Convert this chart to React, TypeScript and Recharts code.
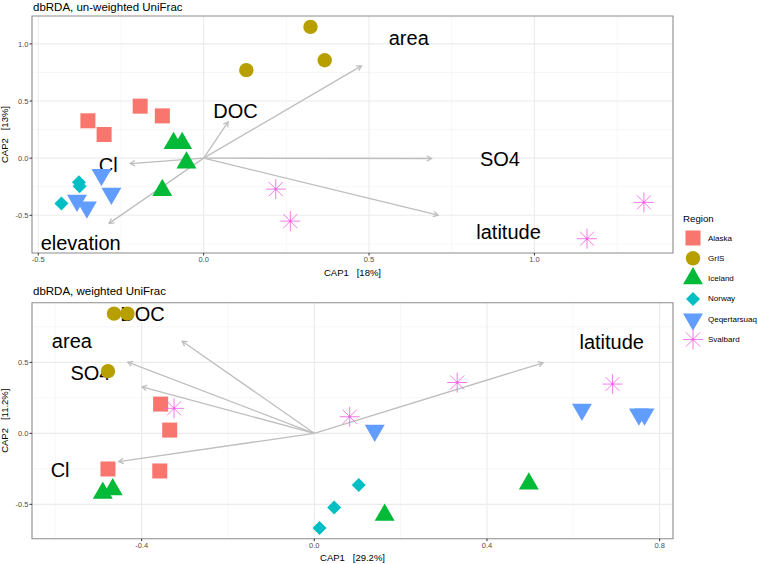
import React from 'react'
import { ScatterChart, Scatter, XAxis, YAxis, CartesianGrid, ReferenceLine, ReferenceArea } from 'recharts'

// region order and ggplot hue colours
const regions = ['Alaska', 'GrIS', 'Iceland', 'Norway', 'Qeqertarsuaq', 'Svalbard']
const regionColors = ['#F8766D', '#B79F00', '#00BA38', '#00BFC4', '#619CFF', '#F564E3']
const regionShapes = ['square', 'circle', 'triangle', 'diamond', 'triangleDown', 'star']

// dbRDA un-weighted UniFrac sample scores
const uwAlaska = [{ x: -0.35, y: 0.327 }, { x: -0.301, y: 0.207 }, { x: -0.192, y: 0.455 }, { x: -0.125, y: 0.37 }]
const uwGrIS = [{ x: 0.323, y: 1.149 }, { x: 0.366, y: 0.857 }, { x: 0.129, y: 0.77 }]
const uwIceland = [{ x: -0.091, y: 0.13 }, { x: -0.065, y: 0.13 }, { x: -0.052, y: -0.04 }, { x: -0.125, y: -0.28 }]
const uwNorway = [{ x: -0.377, y: -0.21 }, { x: -0.375, y: -0.245 }, { x: -0.43, y: -0.397 }]
const uwQeqertarsuaq = [{ x: -0.309, y: -0.145 }, { x: -0.279, y: -0.31 }, { x: -0.383, y: -0.37 }, { x: -0.353, y: -0.43 }]
const uwSvalbard = [{ x: 0.218, y: -0.271 }, { x: 0.262, y: -0.551 }, { x: 1.159, y: -0.705 }, { x: 1.331, y: -0.387 }]

// un-weighted environmental vectors
const uwVectors = [
  { name: 'DOC', x: 0.074, y: 0.318 },
  { name: 'area', x: 0.477, y: 0.808 },
  { name: 'SO4', x: 0.689, y: -0.003 },
  { name: 'latitude', x: 0.709, y: -0.499 },
  { name: 'Cl', x: -0.222, y: -0.047 },
  { name: 'elevation', x: -0.286, y: -0.571 },
]

// dbRDA weighted UniFrac sample scores
const wAlaska = [{ x: -0.356, y: 0.206 }, { x: -0.335, y: 0.023 }, { x: -0.478, y: -0.251 }, { x: -0.358, y: -0.265 }]
const wGrIS = [{ x: -0.464, y: 0.843 }, { x: -0.433, y: 0.843 }, { x: -0.478, y: 0.438 }]
const wIceland = [{ x: -0.49, y: -0.42 }, { x: -0.467, y: -0.395 }, { x: 0.163, y: -0.575 }, { x: 0.497, y: -0.355 }]
const wNorway = [{ x: 0.012, y: -0.667 }, { x: 0.046, y: -0.522 }, { x: 0.103, y: -0.363 }]
const wQeqertarsuaq = [{ x: 0.14, y: 0.02 }, { x: 0.62, y: 0.168 }, { x: 0.752, y: 0.135 }, { x: 0.765, y: 0.135 }]
const wSvalbard = [{ x: -0.325, y: 0.176 }, { x: 0.082, y: 0.117 }, { x: 0.331, y: 0.358 }, { x: 0.691, y: 0.347 }]

const wVectors = [
  { name: 'DOC', x: -0.306, y: 0.649 },
  { name: 'area', x: -0.432, y: 0.501 },
  { name: 'SO4', x: -0.399, y: 0.328 },
  { name: 'Cl', x: -0.453, y: -0.199 },
  { name: 'latitude', x: 0.53, y: 0.497 },
]

// labels sit at 1.3 x the vector tips
const labelMult = 1.3

// axes
const uwXDomain = [-0.519, 1.419]
const uwYDomain = [-0.83, 1.244]
const uwXTicks = [-0.5, 0, 0.5, 1.0]
const uwYTicks = [-0.5, 0, 0.5, 1.0]
const uwXMinor = [-0.25, 0.25, 0.75, 1.25]
const uwYMinor = [-0.75, -0.25, 0.25, 0.75]

const wXDomain = [-0.654, 0.831]
const wYDomain = [-0.742, 0.92]
const wXTicks = [-0.4, 0, 0.4, 0.8]
const wYTicks = [-0.5, 0, 0.5]
const wXMinor = [-0.6, -0.2, 0.2, 0.6]
const wYMinor = [-0.25, 0.25, 0.75]

const FONT = '"Liberation Sans", Arial, Helvetica, sans-serif'

function Marker({ kind, cx, cy, color }: { kind: string; cx: number; cy: number; color: string }) {
  if (kind === 'square') return <rect x={cx - 7.5} y={cy - 7.5} width={15} height={15} fill={color} />
  if (kind === 'circle') return <circle cx={cx} cy={cy} r={7.2} fill={color} />
  if (kind === 'triangle') {
    const r = 11.5
    const pts = [[cx, cy - r], [cx + r * 0.866, cy + r / 2], [cx - r * 0.866, cy + r / 2]]
    return <polygon points={pts.map((p) => p.join(',')).join(' ')} fill={color} />
  }
  if (kind === 'triangleDown') {
    const r = 11.5
    const pts = [[cx, cy + r], [cx + r * 0.866, cy - r / 2], [cx - r * 0.866, cy - r / 2]]
    return <polygon points={pts.map((p) => p.join(',')).join(' ')} fill={color} />
  }
  if (kind === 'diamond') {
    const r = 7
    return <polygon points={`${cx},${cy - r} ${cx + r},${cy} ${cx},${cy + r} ${cx - r},${cy}`} fill={color} />
  }
  // asterisk (+ and x)
  const r = 10
  const d = r * 0.707
  return (
    <g stroke={color} strokeWidth={1} strokeOpacity={0.85}>
      <line x1={cx - r} y1={cy} x2={cx + r} y2={cy} />
      <line x1={cx} y1={cy - r} x2={cx} y2={cy + r} />
      <line x1={cx - d} y1={cy - d} x2={cx + d} y2={cy + d} />
      <line x1={cx - d} y1={cy + d} x2={cx + d} y2={cy - d} />
      <circle cx={cx} cy={cy} r={1.3} fill={color} stroke="none" />
    </g>
  )
}

function arrowShape(props: any) {
  const { x1, y1, x2, y2 } = props
  if ([x1, y1, x2, y2].some((v) => typeof v !== 'number' || isNaN(v))) return <g />
  const ang = Math.atan2(y2 - y1, x2 - x1)
  const len = 5.5
  const a1 = ang + Math.PI - Math.PI / 6
  const a2 = ang + Math.PI + Math.PI / 6
  return (
    <g stroke="#BEBEBE" strokeWidth={1.3} fill="none">
      <line x1={x1} y1={y1} x2={x2} y2={y2} />
      <polyline
        points={`${x2 + len * Math.cos(a1)},${y2 + len * Math.sin(a1)} ${x2},${y2} ${x2 + len * Math.cos(a2)},${y2 + len * Math.sin(a2)}`}
      />
    </g>
  )
}

function labelShape(props: any) {
  const { cx, cy, payload } = props
  return (
    <text x={cx} y={cy} textAnchor="middle" dominantBaseline="central" fontSize={20} fontFamily={FONT} fill="#000">
      {payload.name}
    </text>
  )
}

const fmt = (v: number) => v.toFixed(1)

interface PanelProps {
  series: { x: number; y: number }[][]
  vectors: { name: string; x: number; y: number }[]
  xDomain: number[]
  yDomain: number[]
  xTicks: number[]
  yTicks: number[]
  xMinor: number[]
  yMinor: number[]
  xLabel: string
  yLabel: string
  margin: { top: number; right: number; bottom: number; left: number }
  xHeight: number
  xLabelOffset: number
}

function Panel(p: PanelProps) {
  const labels = p.vectors.map((v) => ({ name: v.name, x: v.x * labelMult, y: v.y * labelMult }))
  const tick = { fontSize: 7.5, fill: '#4D4D4D', fontFamily: FONT }
  return (
    <ScatterChart width={758} height={282} margin={p.margin}>
      <CartesianGrid horizontalValues={p.yMinor} verticalValues={p.xMinor} stroke="#F2F2F2" strokeWidth={0.6} />
      <CartesianGrid horizontalValues={p.yTicks} verticalValues={p.xTicks} stroke="#EBEBEB" strokeWidth={1.1} />
      <XAxis
        type="number"
        dataKey="x"
        domain={p.xDomain}
        ticks={p.xTicks}
        tickFormatter={fmt}
        allowDataOverflow
        axisLine={false}
        tickSize={2.5}
        tickMargin={1}
        tickLine={{ stroke: '#333' }}
        tick={tick}
        height={p.xHeight}
        label={{ value: p.xLabel, position: 'insideBottom', offset: p.xLabelOffset, fontSize: 9.5, fill: '#000', fontFamily: FONT }}
      />
      <YAxis
        type="number"
        dataKey="y"
        domain={p.yDomain}
        ticks={p.yTicks}
        tickFormatter={fmt}
        allowDataOverflow
        axisLine={false}
        tickSize={2.5}
        tickMargin={1}
        tickLine={{ stroke: '#333' }}
        tick={tick}
        width={32}
        label={{ value: p.yLabel, angle: -90, position: 'insideLeft', offset: 5, fontSize: 9.5, fill: '#000', fontFamily: FONT, style: { textAnchor: 'middle' } }}
      />
      <ReferenceArea x1={p.xDomain[0]} x2={p.xDomain[1]} y1={p.yDomain[0]} y2={p.yDomain[1]} fill="none" stroke="#8C8C8C" strokeWidth={1.1} fillOpacity={0} />
      {p.vectors.map((v) => (
        <ReferenceLine key={v.name} segment={[{ x: 0, y: 0 }, { x: v.x, y: v.y }]} shape={arrowShape} ifOverflow="visible" />
      ))}
      <Scatter data={labels} shape={labelShape} isAnimationActive={false} />
      {p.series.map((s, i) => (
        <Scatter
          key={regions[i]}
          name={regions[i]}
          data={s}
          isAnimationActive={false}
          shape={(sp: any) => <Marker kind={regionShapes[i]} cx={sp.cx} cy={sp.cy} color={regionColors[i]} />}
        />
      ))}
    </ScatterChart>
  )
}

export default function App() {
  return (
    <div style={{ position: 'absolute', left: 0, top: 0, width: 758, height: 564, background: '#fff', fontFamily: FONT }}>
      <div style={{ position: 'absolute', left: 0, top: 0 }}>
        <Panel
          series={[uwAlaska, uwGrIS, uwIceland, uwNorway, uwQeqertarsuaq, uwSvalbard]}
          vectors={uwVectors}
          xDomain={uwXDomain}
          yDomain={uwYDomain}
          xTicks={uwXTicks}
          yTicks={uwYTicks}
          xMinor={uwXMinor}
          yMinor={uwYMinor}
          xLabel={'CAP1\u00a0\u00a0\u00a0[18%]'}
          yLabel={'CAP2\u00a0\u00a0\u00a0[13%]'}
          margin={{ top: 16, right: 85, bottom: 0, left: 0 }}
          xHeight={29}
          xLabelOffset={6}
        />
      </div>
      <div style={{ position: 'absolute', left: 0, top: 282 }}>
        <Panel
          series={[wAlaska, wGrIS, wIceland, wNorway, wQeqertarsuaq, wSvalbard]}
          vectors={wVectors}
          xDomain={wXDomain}
          yDomain={wYDomain}
          xTicks={wXTicks}
          yTicks={wYTicks}
          xMinor={wXMinor}
          yMinor={wYMinor}
          xLabel={'CAP1\u00a0\u00a0\u00a0[29.2%]'}
          yLabel={'CAP2\u00a0\u00a0\u00a0[11.2%]'}
          margin={{ top: 20.7, right: 85, bottom: 0, left: 0 }}
          xHeight={25.3}
          xLabelOffset={3.5}
        />
      </div>
      <svg width={758} height={564} style={{ position: 'absolute', left: 0, top: 0, pointerEvents: 'none' }}>
        <text x={33} y={10.5} fontSize={11.5} fill="#000" fontFamily={FONT}>dbRDA, un-weighted UniFrac</text>
        <text x={33} y={295} fontSize={11.5} fill="#000" fontFamily={FONT}>dbRDA, weighted UniFrac</text>
        <text x={683} y={222} fontSize={9.7} fill="#000" fontFamily={FONT}>Region</text>
        {regions.map((r, i) => (
          <g key={r}>
            <Marker kind={regionShapes[i]} cx={693} cy={238 + i * 20.3} color={regionColors[i]} />
            <text x={708} y={238 + i * 20.3} dominantBaseline="central" fontSize={8} fill="#000" fontFamily={FONT}>{r}</text>
          </g>
        ))}
      </svg>
    </div>
  )
}
